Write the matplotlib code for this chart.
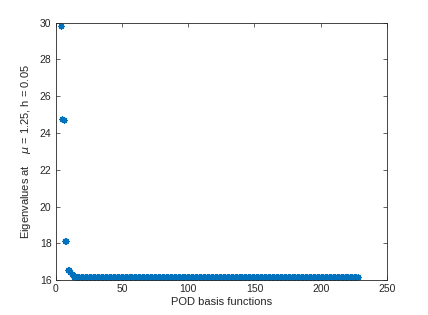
import numpy as np
import matplotlib.pyplot as plt

# values
head_x = [4, 5, 6, 7, 8, 9, 10, 11, 12, 13]
head_y = [29.82, 24.76, 24.72, 18.14, 18.10, 16.56, 16.52, 16.45, 16.35, 16.25]
# long flat tail: (first index, last index, level)
tail_start = [14, 60, 150]
tail_end = [59, 149, 228]
tail_level = [16.18, 16.16, 16.14]

xs = list(head_x)
ys = list(head_y)
for a, b, lev in zip(tail_start, tail_end, tail_level):
    for k in range(a, b + 1):
        xs.append(k)
        ys.append(lev)

dark = '#262626'
plt.rcParams['font.family'] = ['Liberation Sans', 'DejaVu Sans']

fig = plt.figure(figsize=(4.28, 3.15), dpi=100)
ax = fig.add_axes([0.130, 0.111, 0.774, 0.817])

ax.plot(xs, ys, linestyle='none', marker=(8, 2, 0), markersize=4.5,
        markeredgewidth=0.9, color='#0072BD')

ax.set_xlim(0, 250)
ax.set_ylim(16, 30)
ax.set_xticks([0, 50, 100, 150, 200, 250])
ax.set_yticks([16, 18, 20, 22, 24, 26, 28, 30])

ax.tick_params(direction='in', length=3, width=0.5, colors=dark,
               labelsize=7.5, top=True, right=True, pad=3)
for s in ax.spines.values():
    s.set_linewidth(0.6)
    s.set_color(dark)

ax.set_xlabel('POD basis functions', fontsize=8, color=dark, labelpad=2)
ax.set_ylabel(r'Eigenvalues at    $\mu$ = 1.25, h = 0.05', fontsize=8,
              color=dark, labelpad=5)

fig.savefig('out.png', dpi=100)
